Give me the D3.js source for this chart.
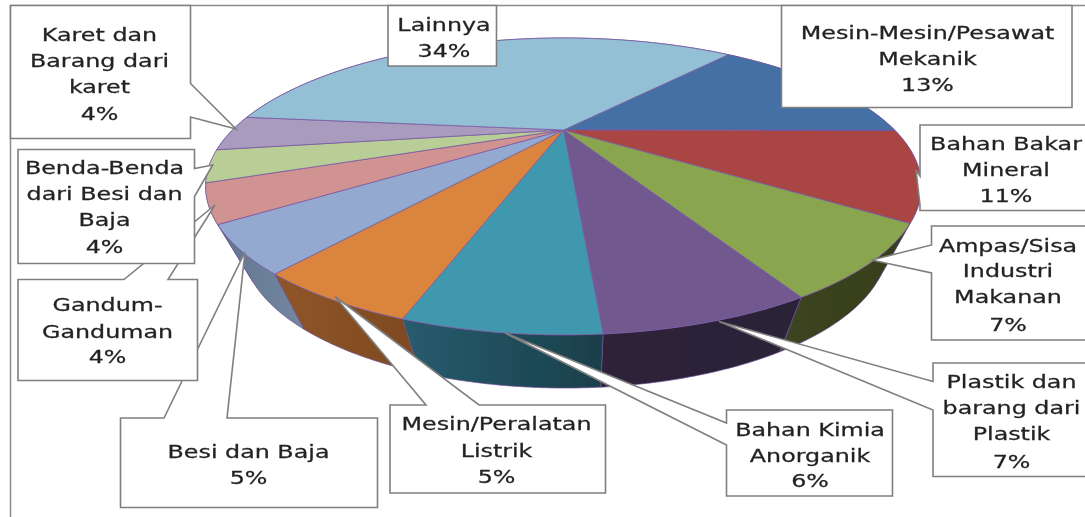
<!DOCTYPE html>
<html><head><meta charset="utf-8">
<script src="https://cdn.jsdelivr.net/npm/d3@7/dist/d3.min.js"></script>
<style>html,body{margin:0;padding:0;background:#fff;overflow:hidden}svg{display:block}text{font-family:"DejaVu Sans";font-size:17px;fill:#222;stroke:#222;stroke-width:0.25;text-anchor:middle}</style>
</head><body>
<svg id="c" width="1085" height="517"></svg>
<script>
// --- data ---
const categories = ["Mesin-Mesin/Pesawat Mekanik","Bahan Bakar Mineral","Ampas/Sisa Industri Makanan","Plastik dan barang dari Plastik","Bahan Kimia Anorganik","Mesin/Peralatan Listrik","Besi dan Baja","Gandum-Ganduman","Benda-Benda dari Besi dan Baja","Karet dan Barang dari karet","Lainnya"];
const percentLabels = ["13%","11%","7%","7%","6%","5%","5%","4%","4%","4%","34%"];
const sliceShares = [13.9,9.7,7.3,6.75,6.2,5.4,4.7,4,3.5,4,34.4];
const labelLines = [["Mesin-Mesin/Pesawat","Mekanik"],["Bahan Bakar","Mineral"],["Ampas/Sisa","Industri","Makanan"],["Plastik dan","barang dari","Plastik"],["Bahan Kimia","Anorganik"],["Mesin/Peralatan","Listrik"],["Besi dan Baja"],["Gandum-","Ganduman"],["Benda-Benda","dari Besi dan","Baja"],["Karet dan","Barang dari","karet"],["Lainnya"]];
// --- style ---
const topColors = ["#4470a5","#a94442","#89a54e","#71588f","#4198af","#db843d","#93a9cf","#d19392","#b9cd96","#a99bbd","#93c0d4"];
const wallFrom = ["#2f4d72","#6e2c2a","#3c4520","#2e2238","#275c6e","#8f5528","#5f7591","#7d5655","#6f7b58","#655c71","#587380"];
const wallTo   = ["#2f4d72","#6e2c2a","#353c1d","#2a2036","#1a3f4a","#7d4a20","#75879f","#7d5655","#6f7b58","#655c71","#587380"];
// --- callout layout: box [x0,y0,x1,y1], wedge polygon part, text centre, baselines ---
const callouts = [
 {i:6, box:[120.5,418,377.5,507.5], side:"top", wedge:[[164,418],[245,252],[227,418]], cx:248.5, ys:[458,484]},
 {i:7, box:[18,279.5,197.5,380.5], side:"top", wedge:[[124,279.5],[215,205],[168,279.5]], cx:107.5, ys:[311,337.5,363]},
 {i:8, box:[18,149.5,194.5,263.5], side:"right", wedge:[[194.5,168.5],[212.7,165],[194.5,196.5]], cx:104.5, ys:[174,200,226,253]},
 {i:9, box:[10.5,5.5,190.5,138.5], side:"right", wedge:[[190.5,83.5],[236,129],[190.5,117]], cx:99.5, ys:[40.7,66.7,92.7,119.5]},
 {i:10, box:[388,5.5,496.5,66], side:"none", wedge:[], cx:444, ys:[30.7,57.3]},
 {i:0, box:[781.5,5.5,1072,107.5], side:"none", wedge:[], cx:927.5, ys:[39.3,65,91]},
 {i:1, box:[920,125,1095,210.5], side:"left", wedge:[[920,205],[916,170],[920,176]], cx:1006, ys:[150,176,201.7]},
 {i:2, box:[931.5,226,1095,340], side:"left", wedge:[[931.5,273],[871.7,260],[931.5,245]], cx:1008, ys:[251.7,277,303,331]},
 {i:3, box:[933,363,1095,476.5], side:"left", wedge:[[933,410],[719,321.5],[933,381.5]], cx:1011.5, ys:[388,413.5,440,468]},
 {i:4, box:[726.5,410,892.5,496], side:"left", wedge:[[726.5,445],[505,333],[726.5,423]], cx:810, ys:[435.7,461.7,487]},
 {i:5, box:[390,405,605.5,493], side:"top", wedge:[[426,405],[335,296.5],[479,405]], cx:496.5, ys:[430,456.7,482.7]}
];

const svg = d3.select("#c");
const defs = svg.append("defs");
defs.append("filter").attr("id","soft").attr("x","-5%").attr("y","-5%").attr("width","110%").attr("height","110%")
    .append("feGaussianBlur").attr("stdDeviation",0.45);

// perspective projection of the pie disc
const persp = 0.38;
const surfaceTop = {cx:563.5, y0:130, A:127, B:331};
const surfaceBot = {cx:565, y0:190.6, A:122.4, B:298.8};
const project = (s,a) => {
  const u = Math.sin(a), v = -Math.cos(a), w = 1 - persp*v;
  return [s.cx + s.B*u/w, s.y0 + s.A*v/w];
};
const rad = d3.scaleLinear().domain([0,360]).range([0,2*Math.PI]);
const pie = d3.pie().sort(null).startAngle(rad(40)).endAngle(rad(400));
const arcs = pie(sliceShares);
const samples = d => d3.range(0,61).map(k => d.startAngle + (d.endAngle-d.startAngle)*k/60);
const line = d3.line();

const chart = svg.append("g").attr("filter","url(#soft)");

// side walls: back-to-front
const order = arcs.map((d,i)=>i).sort((a,b)=>{
  const m = d => -Math.cos((arcs[d].startAngle+arcs[d].endAngle)/2);
  return m(a)-m(b);
});
order.forEach(i=>{
  const d = arcs[i], aa = samples(d);
  const pts = aa.map(a=>project(surfaceTop,a)).concat(aa.slice().reverse().map(a=>project(surfaceBot,a)));
  const xs = pts.map(p=>p[0]);
  const g = defs.append("linearGradient").attr("id","w"+i).attr("gradientUnits","userSpaceOnUse")
     .attr("x1",d3.min(xs)).attr("x2",d3.max(xs)).attr("y1",0).attr("y2",0);
  g.append("stop").attr("offset",0).attr("stop-color",wallFrom[i]);
  g.append("stop").attr("offset",1).attr("stop-color",wallTo[i]);
  chart.append("path").attr("d",line(pts)+"Z").attr("fill",`url(#w${i})`)
     .attr("stroke","#6d4f96").attr("stroke-width",0.7);
});
// top surface
chart.selectAll("path.top").data(arcs).join("path").attr("class","top")
  .attr("d",d=>line([[surfaceTop.cx,surfaceTop.y0]].concat(samples(d).map(a=>project(surfaceTop,a))))+"Z")
  .attr("fill",(d,i)=>topColors[i]).attr("stroke","#7a5ba3").attr("stroke-width",0.8).attr("stroke-linejoin","round");

// frame lines
const frame = svg.append("g").attr("stroke","#8a8a8a").attr("stroke-width",1.5).attr("filter","url(#soft)");
frame.append("line").attr("x1",10).attr("x2",1085).attr("y1",5.5).attr("y2",5.5);
frame.append("line").attr("x1",10.5).attr("x2",10.5).attr("y1",5).attr("y2",517);

// callouts
function outline(c){
  const [x0,y0,x1,y1] = c.box;
  if(c.side==="top")   return [[x0,y0],...c.wedge,[x1,y0],[x1,y1],[x0,y1]];
  if(c.side==="right") return [[x0,y0],[x1,y0],...c.wedge,[x1,y1],[x0,y1]];
  if(c.side==="left")  return [[x0,y0],[x1,y0],[x1,y1],[x0,y1],...c.wedge];
  return [[x0,y0],[x1,y0],[x1,y1],[x0,y1]];
}
const groups = svg.selectAll("g.callout").data(callouts).join("g").attr("class","callout");
groups.append("path").attr("d",c=>line(outline(c))+"Z").attr("fill","#fff")
  .attr("stroke","#7f7f7f").attr("stroke-width",1.6).attr("stroke-linejoin","miter").attr("filter","url(#soft)");
groups.each(function(c){
  const lines = labelLines[c.i].concat([percentLabels[c.i]]);
  d3.select(this).selectAll("text").data(lines).join("text")
    .attr("transform",(t,k)=>`translate(${c.cx},${c.ys[k]}) scale(1.4,1)`)
    .attr("filter","url(#soft)")
    .text(t=>t);
});
</script>
</body></html>
